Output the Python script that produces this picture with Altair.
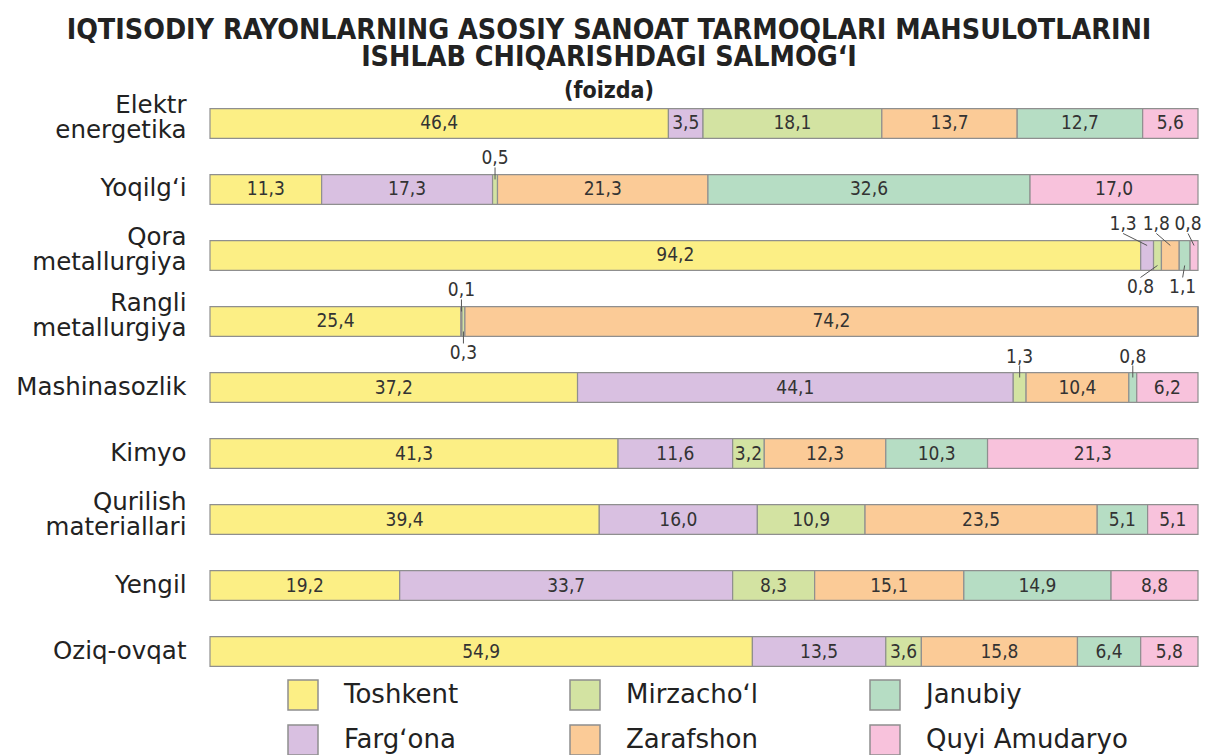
import altair as alt
import pandas as pd

categories = ["Elektr|energetika", "Yoqilgʻi", "Qora|metallurgiya", "Rangli|metallurgiya",
              "Mashinasozlik", "Kimyo", "Qurilish|materiallari", "Yengil", "Oziq-ovqat"]
regions = ["Toshkent", "Fargʻona", "Mirzachoʻl", "Zarafshon", "Janubiy", "Quyi Amudaryo"]
region_colors = ["#fcef85", "#d9c0e1", "#d3e3a2", "#fbcb97", "#b6ddc4", "#f8c2dc"]

toshkent = [46.4, 11.3, 94.2, 25.4, 37.2, 41.3, 39.4, 19.2, 54.9]
fargona = [3.5, 17.3, 1.3, 0.1, 44.1, 11.6, 16.0, 33.7, 13.5]
mirzachol = [18.1, 0.5, 0.8, 0.3, 1.3, 3.2, 10.9, 8.3, 3.6]
zarafshon = [13.7, 21.3, 1.8, 74.2, 10.4, 12.3, 23.5, 15.1, 15.8]
janubiy = [12.7, 32.6, 1.1, 0.0, 0.8, 10.3, 5.1, 14.9, 6.4]
quyi = [5.6, 17.0, 0.8, 0.0, 6.2, 21.3, 5.1, 8.8, 5.8]

# small-segment labels drawn below the bar (others go above)
below_labels = [("Qora|metallurgiya", "Mirzachoʻl"), ("Qora|metallurgiya", "Janubiy"),
                ("Rangli|metallurgiya", "Mirzachoʻl")]
# horizontal nudges (pixels) of crowded outside labels
label_nudge_px = {("Qora|metallurgiya", "Fargʻona"): -24, ("Qora|metallurgiya", "Zarafshon"): -14,
                  ("Qora|metallurgiya", "Quyi Amudaryo"): -6,
                  ("Qora|metallurgiya", "Mirzachoʻl"): -17, ("Qora|metallurgiya", "Janubiy"): -2}

PLOT_W = 988
series = [toshkent, fargona, mirzachol, zarafshon, janubiy, quyi]
rows = []
for ci, cat in enumerate(categories):
    for ri, reg in enumerate(regions):
        v = series[ri][ci]
        if v == 0:
            pos = "none"
        elif v < 3:
            pos = "below" if (cat, reg) in below_labels else "above"
        else:
            pos = "in"
        rows.append({"cat": cat, "region": reg, "idx": ri, "value": v,
                     "label": f"{v:.1f}".replace(".", ","), "pos": pos,
                     "nudge": label_nudge_px.get((cat, reg), 0) * 100 / PLOT_W})
df = pd.DataFrame(rows)

NARROW = "DejaVu Sans Condensed, sans-serif"

base = alt.Chart(df).transform_stack(
    stack="value", as_=["x0", "x1"], groupby=["cat"],
    sort=[alt.SortField("idx", order="ascending")]
).transform_calculate(mid="(datum.x0 + datum.x1) / 2",
                      lx="(datum.x0 + datum.x1) / 2 + datum.nudge")

yenc = alt.Y("cat:N", sort=categories,
             scale=alt.Scale(paddingInner=0.55, paddingOuter=0.1),
             axis=alt.Axis(title=None, ticks=False, domain=False, labelFont="DejaVu Sans",
                           labelFontSize=24.5, labelColor="#222", labelLineHeight=25,
                           labelPadding=24, labelLimit=300, labelAlign="right",
                           labelBaseline="middle",
                           labelOffset={"condition": {"test": "indexof(datum.value, '|') >= 0",
                                                      "value": -17}, "value": 0},
                           labelExpr="split(datum.label, '|')"))
xscale = alt.Scale(domain=[0, 100], nice=False)

bars = base.mark_bar(stroke="#8f8f8f", strokeWidth=1.2).encode(
    x=alt.X("x0:Q", scale=xscale, axis=None),
    x2="x1:Q",
    y=yenc,
    color=alt.Color("region:N", scale=alt.Scale(domain=regions, range=region_colors),
                    legend=alt.Legend(title=None, orient="none", direction="vertical",
                                      legendX=77, legendY=577,
                                      columns=3, columnPadding=108, rowPadding=9,
                                      symbolType="square", symbolSize=900,
                                      symbolStrokeColor="#8f8f8f", symbolStrokeWidth=1.5,
                                      symbolOpacity=1, labelFont="DejaVu Sans", labelFontSize=26,
                                      labelColor="#222", labelOffset=25, labelLimit=400,
                                      padding=0)),
)

def txt(pos, dy):
    return base.transform_filter(alt.datum.pos == pos).mark_text(
        font=NARROW, fontSize=19, color="#333", baseline="middle", dy=dy
    ).encode(x=alt.X("lx:Q", scale=xscale, axis=None), y=alt.Y("cat:N", sort=categories),
             text="label:N")

def lead(pos, y_off, y2_off):
    return base.transform_filter(alt.datum.pos == pos).mark_rule(
        strokeWidth=1, color="#555", yOffset=y_off, y2Offset=y2_off
    ).encode(x=alt.X("mid:Q", scale=xscale, axis=None), x2="lx:Q",
             y=alt.Y("cat:N", sort=categories), y2="cat")

chart = alt.layer(
    bars, txt("in", 0), txt("above", -31), lead("above", -10, -22),
    txt("below", 32), lead("below", 10, 22)
).properties(
    width=PLOT_W, height=571, autosize="none",
    padding={"left": 202, "top": 94, "right": 14, "bottom": 100},
    title=alt.Title(
        text=["IQTISODIY RAYONLARNING ASOSIY SANOAT TARMOQLARI MAHSULOTLARINI",
              "ISHLAB CHIQARISHDAGI SALMOGʻI"],
        subtitle="(foizda)", anchor="middle", dx=-95, offset=-11,
        font=NARROW, fontSize=28.4, fontWeight="bold", lineHeight=27, color="#222",
        subtitleFont=NARROW, subtitleFontSize=23, subtitleFontWeight="bold",
        subtitleColor="#222", subtitlePadding=8),
).configure_view(stroke=None)

chart.save("out.html", embed_options={"renderer": "svg", "actions": False})
